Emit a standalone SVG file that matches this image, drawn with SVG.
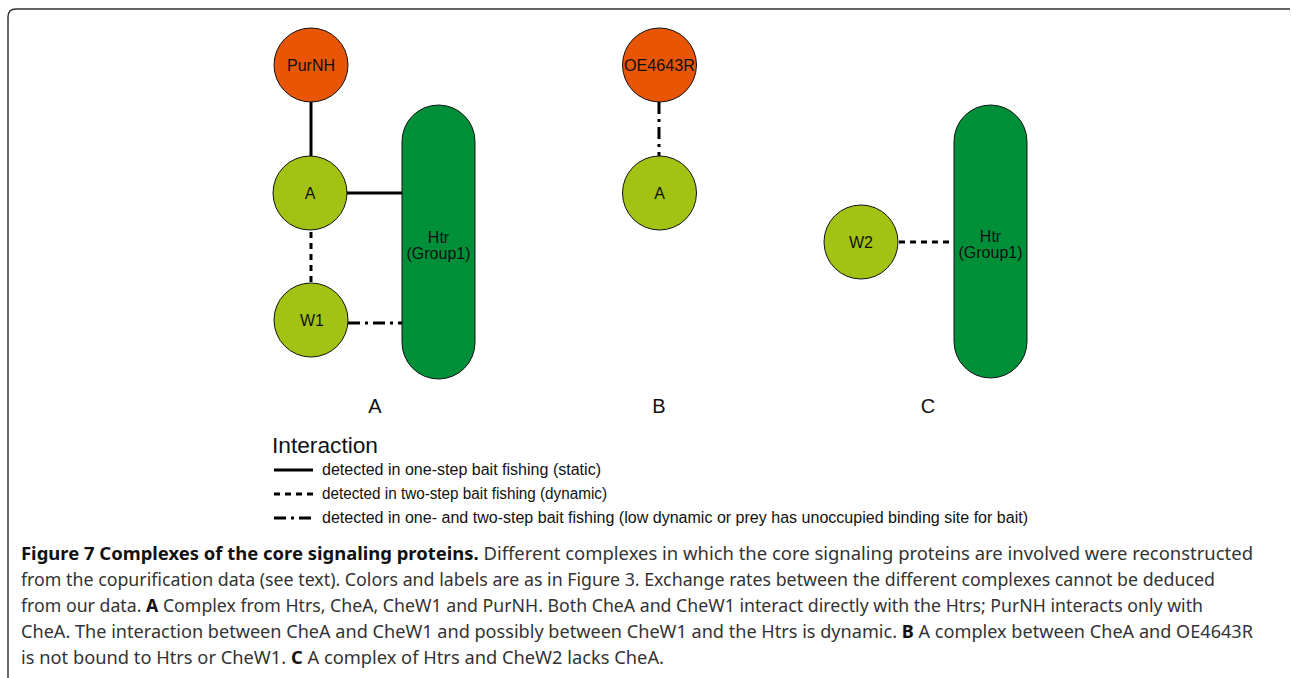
<svg xmlns="http://www.w3.org/2000/svg" width="1292" height="678" viewBox="0 0 1292 678">
<style>
.orange{fill:#E85504;stroke:#111;stroke-width:1}
.lime{fill:#A3C314;stroke:#111;stroke-width:1}
.htr{fill:#008F39;stroke:#111;stroke-width:1}
.lbl{font-family:"Liberation Sans",Arial,sans-serif;font-size:16px;fill:#111;text-anchor:middle}
.big{font-family:"Liberation Sans",Arial,sans-serif;font-size:20px;fill:#111;text-anchor:middle}
.leg{font-family:"Liberation Sans",Arial,sans-serif;font-size:16px;fill:#111}
.title{font-family:"Liberation Sans",Arial,sans-serif;font-size:22px;fill:#111}
.cap{font-family:"Noto Sans","Open Sans",sans-serif;font-size:17.5px;fill:#333}
.b{font-weight:bold;fill:#111}
.solid{stroke:#000;stroke-width:3;fill:none}
.dot{stroke:#000;stroke-width:3;fill:none;stroke-dasharray:6 5}
.dd{stroke:#000;stroke-width:3;fill:none;stroke-dasharray:12 5 3 5}
.faint{stroke:#c8c8c8;stroke-width:1;fill:none;opacity:0.7}
</style>
<path d="M8,678 V17 Q8,9 16,9 H1290" fill="none" stroke="#333" stroke-width="1.5"/>
<g id="connectors">
<line class="solid" x1="311" y1="102" x2="311" y2="156"/>
<line class="solid" x1="346" y1="193" x2="402" y2="193"/>
<line class="dot" x1="311" y1="232" x2="311" y2="284"/>
<line class="dd" x1="348" y1="323" x2="402" y2="323"/>
<line class="dd" x1="659" y1="102" x2="659" y2="156"/>
<line class="dot" x1="899" y1="242" x2="954" y2="242"/>
<line class="faint" x1="311" y1="65" x2="311" y2="102"/>
<line class="faint" x1="313" y1="65" x2="313" y2="102"/>
<line class="faint" x1="311" y1="193" x2="346" y2="193"/>
<line class="faint" x1="311" y1="193" x2="311" y2="229" stroke-dasharray="4 4"/>
<line class="faint" x1="325" y1="323" x2="348" y2="323" stroke-dasharray="4 4"/>
<line class="faint" x1="659" y1="65" x2="659" y2="102" stroke-dasharray="4 3"/>
<line class="faint" x1="875" y1="242" x2="899" y2="242" stroke-dasharray="4 4"/>
</g>
<g id="htr-a">
<rect class="htr" x="402" y="105" width="73" height="274" rx="36.5"/>
<text class="lbl" x="438.5" y="243">Htr</text>
<text class="lbl" x="438.5" y="259">(Group1)</text>
</g>
<g id="purnh">
<circle class="orange" cx="311" cy="65" r="37"/>
<text class="lbl" x="311" y="71">PurNH</text>
</g>
<g id="chea-a">
<circle class="lime" cx="310" cy="193" r="37"/>
<text class="lbl" x="310" y="199">A</text>
</g>
<g id="w1">
<circle class="lime" cx="311" cy="320" r="37"/>
<text class="lbl" x="312" y="326">W1</text>
</g>
<g id="oe4643r">
<circle class="orange" cx="659.5" cy="65" r="37"/>
<text class="lbl" x="659.5" y="71" textLength="71" lengthAdjust="spacingAndGlyphs">OE4643R</text>
</g>
<g id="chea-b">
<circle class="lime" cx="659.5" cy="193" r="37"/>
<text class="lbl" x="659.5" y="199">A</text>
</g>
<g id="w2">
<circle class="lime" cx="861" cy="242" r="37"/>
<text class="lbl" x="861" y="248">W2</text>
</g>
<g id="htr-c">
<rect class="htr" x="954" y="105" width="73" height="273" rx="36.5"/>
<text class="lbl" x="990.5" y="242">Htr</text>
<text class="lbl" x="990.5" y="258">(Group1)</text>
</g>
<g id="panel-labels">
<text class="big" x="375" y="413">A</text>
<text class="big" x="659" y="413">B</text>
<text class="big" x="928" y="413">C</text>
</g>
<g id="legend">
<text class="title" x="272" y="453" textLength="106" lengthAdjust="spacingAndGlyphs">Interaction</text>
<line class="solid" x1="274" y1="470" x2="313" y2="470"/>
<line class="solid" x1="274" y1="494" x2="313" y2="494" stroke-dasharray="6 5"/>
<line class="solid" x1="274" y1="518" x2="313" y2="518" stroke-dasharray="12 5 3 5"/>
<text class="leg" x="322" y="475" textLength="279" lengthAdjust="spacingAndGlyphs">detected in one-step bait fishing (static)</text>
<text class="leg" x="322" y="499" textLength="285" lengthAdjust="spacingAndGlyphs">detected in two-step bait fishing (dynamic)</text>
<text class="leg" x="322" y="523" textLength="706" lengthAdjust="spacingAndGlyphs">detected in one- and two-step bait fishing (low dynamic or prey has unoccupied binding site for bait)</text>
</g>
<g id="caption">
<text class="cap" x="21" y="560" textLength="1232" lengthAdjust="spacingAndGlyphs"><tspan class="b">Figure 7 Complexes of the core signaling proteins.</tspan> Different complexes in which the core signaling proteins are involved were reconstructed</text>
<text class="cap" x="21" y="586" textLength="1194" lengthAdjust="spacingAndGlyphs">from the copurification data (see text). Colors and labels are as in Figure 3. Exchange rates between the different complexes cannot be deduced</text>
<text class="cap" x="21" y="612" textLength="1182" lengthAdjust="spacingAndGlyphs">from our data. <tspan class="b">A</tspan> Complex from Htrs, CheA, CheW1 and PurNH. Both CheA and CheW1 interact directly with the Htrs; PurNH interacts only with</text>
<text class="cap" x="21" y="638" textLength="1232" lengthAdjust="spacingAndGlyphs">CheA. The interaction between CheA and CheW1 and possibly between CheW1 and the Htrs is dynamic. <tspan class="b">B</tspan> A complex between CheA and OE4643R</text>
<text class="cap" x="21" y="664" textLength="643" lengthAdjust="spacingAndGlyphs">is not bound to Htrs or CheW1. <tspan class="b">C</tspan> A complex of Htrs and CheW2 lacks CheA.</text>
</g>
</svg>
